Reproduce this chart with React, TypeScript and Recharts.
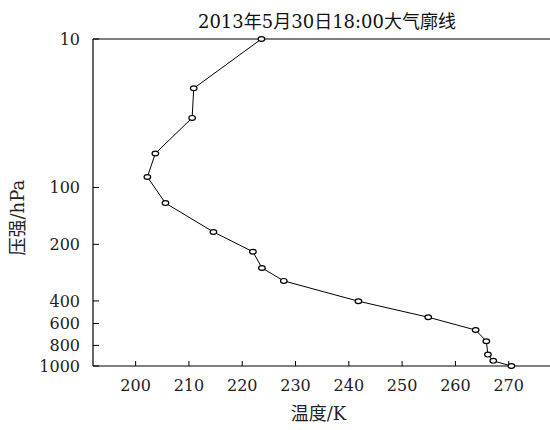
import React from 'react';
import { ScatterChart, Scatter, XAxis, YAxis } from 'recharts';

// sounding, top of the profile first
const temperature = [223.6, 210.9, 210.6, 203.7, 202.2, 205.6, 214.6, 222.0, 223.7, 227.8, 241.8, 254.9, 263.8, 265.8, 266.1, 267.1, 270.5];
const pressure = [10, 21.5, 34, 59, 85, 121, 172, 219, 267, 313, 402, 536, 654, 757, 884, 946, 1000];

const tempTicks = [200, 210, 220, 230, 240, 250, 260, 270];
const pressureTicks = [10, 100, 200, 400, 600, 800, 1000];

const points = temperature.map((t, i) => ({ t, p: pressure[i] }));

// the original axis is not a plain log axis: each labelled level sits at its own
// height (0 = top, 1 = bottom), log-interpolated in between
const pressureStops = [0, 0.454, 0.628, 0.801, 0.870, 0.937, 1];

function stretchedPressureScale(): any {
  let dom: number[] = [10, 1000];
  let rng: number[] = [0, 1];

  const frac = (p: number) => {
    const lp = Math.log10(p);
    for (let i = 1; i < pressureTicks.length; i++) {
      const a = Math.log10(pressureTicks[i - 1]);
      const b = Math.log10(pressureTicks[i]);
      if (lp <= b || i === pressureTicks.length - 1) {
        const k = (lp - a) / (b - a);
        return pressureStops[i - 1] + k * (pressureStops[i] - pressureStops[i - 1]);
      }
    }
    return 0;
  };

  const scale: any = (p: number) => rng[0] + frac(p) * (rng[1] - rng[0]);
  scale.domain = (d?: number[]) => {
    if (d === undefined) return dom.slice();
    dom = d.slice();
    return scale;
  };
  scale.range = (r?: number[]) => {
    if (r === undefined) return rng.slice();
    rng = r.slice();
    return scale;
  };
  scale.copy = () => stretchedPressureScale().domain(dom).range(rng);
  scale.ticks = () => pressureTicks.slice();
  return scale;
}

const FONT = '"DejaVu Serif", "Liberation Serif", "Noto Sans CJK SC", serif';

const Marker = (props: any) => {
  const { cx, cy } = props;
  if (cx == null || cy == null) return null;
  return <ellipse cx={cx} cy={cy} rx={3.3} ry={2.4} fill="#fff" stroke="#000" strokeWidth={1.2} />;
};

export default function App() {
  return (
    <div style={{ position: 'absolute', left: 0, top: 0, width: 550, height: 430, overflow: 'hidden', background: '#fff', fontFamily: FONT }}>
      <div style={{ position: 'absolute', left: 0, top: 7, width: 550, textAlign: 'center', fontSize: 18, color: '#111' }}>
        <span style={{ position: 'relative', left: 52 }}>2013年5月30日18:00大气廓线</span>
      </div>
      <ScatterChart width={600} height={430} margin={{ top: 38, right: 38, bottom: 0, left: 0 }}>
        <XAxis
          xAxisId="top"
          orientation="top"
          type="number"
          dataKey="t"
          domain={[192, 280]}
          height={1}
          tick={false}
          tickLine={false}
          axisLine={{ stroke: '#000', strokeWidth: 1.2 }}
        />
        <XAxis
          type="number"
          dataKey="t"
          domain={[192, 280]}
          ticks={tempTicks}
          interval={0}
          height={64}
          tickSize={-5}
          tickMargin={19}
          axisLine={{ stroke: '#000', strokeWidth: 1.2 }}
          tickLine={{ stroke: '#000' }}
          tick={{ fill: '#222', fontSize: 16, fontFamily: FONT }}
          label={{ value: '温度/K', position: 'insideBottom', offset: 10, dx: -9, fill: '#222', fontSize: 18, fontFamily: FONT }}
        />
        <YAxis
          type="number"
          dataKey="p"
          scale={stretchedPressureScale()}
          domain={[10, 1000]}
          reversed
          ticks={pressureTicks}
          interval={0}
          width={93}
          tickSize={-6}
          tickMargin={19}
          axisLine={{ stroke: '#000', strokeWidth: 1.2 }}
          tickLine={{ stroke: '#000' }}
          tick={{ fill: '#222', fontSize: 16, fontFamily: FONT }}
          label={{ value: '压强/hPa', angle: -90, position: 'insideLeft', offset: 10, dx: 8, dy: 53, fill: '#222', fontSize: 18, fontFamily: FONT }}
        />
        <Scatter
          data={points}
          line={{ stroke: '#000', strokeWidth: 1 }}
          shape={<Marker />}
          isAnimationActive={false}
        />
      </ScatterChart>
    </div>
  );
}
